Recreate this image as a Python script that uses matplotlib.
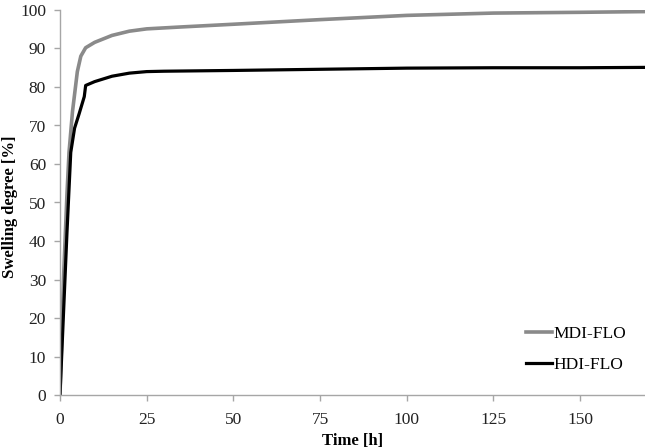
import matplotlib
matplotlib.use("Agg")
import matplotlib.pyplot as plt

time_mdi = [0, 1, 2, 2.6, 3.6, 5, 6, 7.4, 10, 15, 20, 25, 35, 50, 75, 100, 125, 150, 170]
swelling_mdi = [0, 30, 52, 63, 73.6, 84, 88, 90.2, 91.6, 93.4, 94.5, 95.1, 95.6, 96.3, 97.5, 98.6, 99.2, 99.4, 99.6]

time_hdi = [0, 1, 2, 3.1, 4.2, 5.5, 7, 7.4, 10, 15, 20, 25, 30, 50, 75, 100, 125, 150, 170]
swelling_hdi = [0, 21, 42, 63, 69.3, 73, 77.5, 80.4, 81.4, 82.8, 83.6, 84.0, 84.1, 84.3, 84.6, 84.9, 85.0, 85.0, 85.1]

xticks = [0, 25, 50, 75, 100, 125, 150]
yticks = [0, 10, 20, 30, 40, 50, 60, 70, 80, 90, 100]

plt.rcParams['font.family'] = ['Liberation Serif', 'DejaVu Serif']

fig = plt.figure(figsize=(6.45, 4.48), dpi=100)
ax = fig.add_axes([60/645, 1-395/448, 1-60/645, (395-10)/448])

ax.plot(time_mdi, swelling_mdi, color='#8a8a8a', lw=2.6, label='MDI-FLO', solid_joinstyle='round')
ax.plot(time_hdi, swelling_hdi, color='#000000', lw=2.3, label='HDI-FLO', solid_joinstyle='round')

ax.set_xlim(0, 168.7)
ax.set_ylim(0, 100)
ax.set_xticks(xticks)
ax.set_yticks(yticks)
for s in ['top', 'right']:
    ax.spines[s].set_visible(False)
for s in ['left', 'bottom']:
    ax.spines[s].set_color('#a6a6a6')
    ax.spines[s].set_linewidth(1.0)
ax.tick_params(axis='both', colors='#a6a6a6', labelcolor='#222222', labelsize=12.5, length=4, width=1.0, direction='out')
ax.tick_params(axis='x', pad=8)
ax.tick_params(axis='y', pad=6)

ax.set_xlabel('Time [h]', fontsize=12, fontweight='bold', labelpad=4)
ax.set_ylabel('Swelling degree [%]', fontsize=12, fontweight='bold')
ax.yaxis.set_label_coords(-0.071, 0.488)

leg = ax.legend(loc='lower right', bbox_to_anchor=(0.995, 0.017), frameon=False, fontsize=12.5,
                handlelength=1.5, handletextpad=0.1, labelspacing=0.85)

fig.savefig('out.png', dpi=100)
